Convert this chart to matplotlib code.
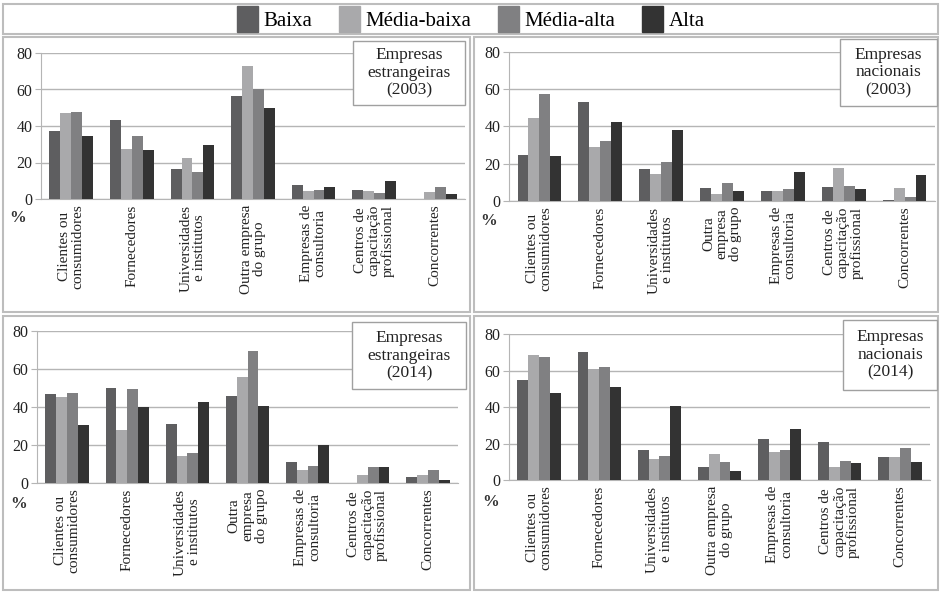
import numpy as np
import matplotlib
matplotlib.use("Agg")
import matplotlib.pyplot as plt
from matplotlib.patches import Rectangle

plt.rcParams['font.family'] = ['Liberation Serif', 'DejaVu Serif']

## data (percent)
series = ["Baixa", "Média-baixa", "Média-alta", "Alta"]
colors = ["#5e5e60", "#a9a9ab", "#808082", "#333333"]

cats_estr03 = ["Clientes ou\nconsumidores", "Fornecedores", "Universidades\ne institutos",
               "Outra empresa\ndo grupo", "Empresas de\nconsultoria",
               "Centros de\ncapacitação\nprofissional", "Concorrentes"]
cats_nac03 = ["Clientes ou\nconsumidores", "Fornecedores", "Universidades\ne institutos",
              "Outra\nempresa\ndo grupo", "Empresas de\nconsultoria",
              "Centros de\ncapacitação\nprofissional", "Concorrentes"]
cats_estr14 = cats_nac03
cats_nac14 = cats_estr03

# estrangeiras 2003
estr03_baixa = [37.4, 43.3, 16.4, 56.6, 7.7, 5.1, 0.0]
estr03_mbaixa = [46.9, 27.6, 22.6, 72.7, 4.4, 4.4, 4.0]
estr03_malta = [47.5, 34.5, 15.0, 60.1, 5.1, 3.5, 6.6]
estr03_alta = [34.5, 26.7, 29.6, 49.9, 6.6, 9.9, 2.7]

# nacionais 2003
nac03_baixa = [24.8, 53.3, 17.0, 6.8, 5.4, 7.7, 0.7]
nac03_mbaixa = [44.3, 29.2, 14.7, 3.8, 5.4, 17.9, 6.8]
nac03_malta = [57.6, 32.1, 20.8, 9.7, 6.5, 8.3, 2.0]
nac03_alta = [24.2, 42.3, 38.2, 5.6, 15.8, 6.5, 13.8]

# estrangeiras 2014
estr14_baixa = [47.0, 50.2, 31.0, 45.6, 11.1, 0.0, 3.3]
estr14_mbaixa = [45.5, 27.8, 14.4, 55.7, 6.7, 4.2, 4.2]
estr14_malta = [47.4, 49.3, 16.0, 69.4, 9.0, 8.4, 6.7]
estr14_alta = [30.3, 39.8, 42.8, 40.5, 19.9, 8.4, 1.8]

# nacionais 2014
nac14_baixa = [55.0, 70.0, 16.2, 7.3, 22.4, 20.6, 12.8]
nac14_mbaixa = [68.7, 60.7, 11.3, 14.0, 15.1, 7.1, 12.4]
nac14_malta = [67.6, 62.1, 13.1, 9.8, 16.4, 10.4, 17.7]
nac14_alta = [47.9, 50.8, 40.3, 4.9, 28.2, 9.1, 9.8]

panels = [
    (cats_estr03, [estr03_baixa, estr03_mbaixa, estr03_malta, estr03_alta], "Empresas\nestrangeiras\n(2003)"),
    (cats_nac03, [nac03_baixa, nac03_mbaixa, nac03_malta, nac03_alta], "Empresas\nnacionais\n(2003)"),
    (cats_estr14, [estr14_baixa, estr14_mbaixa, estr14_malta, estr14_alta], "Empresas\nestrangeiras\n(2014)"),
    (cats_nac14, [nac14_baixa, nac14_mbaixa, nac14_malta, nac14_alta], "Empresas\nnacionais\n(2014)"),
]

W, H = 940, 592
fig = plt.figure(figsize=(W / 100, H / 100), dpi=100)

def fx(px):
    return px / W

def fy(py):
    return 1 - py / H

# layout in pixels: axes (left, top, right, bottom), panel frame, title box, % position
layout = [
    dict(ax=(41, 53, 465, 199), frame=(3, 37, 470, 312), box=(353, 41, 465, 105), pct=(18, 218)),
    dict(ax=(509, 52, 935, 201), frame=(474, 37, 938, 312), box=(840, 39, 937, 106), pct=(489, 221)),
    dict(ax=(37, 331, 458, 483), frame=(3, 316, 470, 590), box=(352, 322, 466, 389), pct=(19, 504)),
    dict(ax=(509, 334, 930, 480), frame=(474, 316, 938, 590), box=(843, 320, 937, 390), pct=(491, 502)),
]

border = "#bdbdbd"
grid_c = "#b5b5b5"
bar_w = 0.18

# legend strip
fig.patches.append(Rectangle((fx(3), fy(34)), fx(935), 30 / H, transform=fig.transFigure,
                             fill=False, edgecolor=border, lw=1.5))

for (cats, vals, title), lay in zip(panels, layout):
    l, t, r, b = lay["ax"]
    ax = fig.add_axes([fx(l), fy(b), fx(r - l), (b - t) / H])
    x = np.arange(len(cats))
    for i, (v, c) in enumerate(zip(vals, colors)):
        ax.bar(x + (i - 1.5) * bar_w, v, bar_w, color=c, label=series[i], zorder=3)
    ax.set_xlim(-0.5, len(cats) - 0.5)
    ax.set_ylim(0, 80)
    ax.set_yticks([0, 20, 40, 60, 80])
    ax.yaxis.grid(True, color=grid_c, lw=1, zorder=0)
    ax.set_xticks(x)
    ax.set_xticklabels(cats, rotation=90, ma="center", fontsize=11, color="#222222",
                       linespacing=1.05)
    ax.tick_params(axis="x", length=0, pad=4)
    ax.tick_params(axis="y", length=4, color=grid_c, labelsize=11.5, labelcolor="#222222", pad=2)
    for s in ["top", "right"]:
        ax.spines[s].set_visible(False)
    ax.spines["left"].set_color(grid_c)
    ax.spines["bottom"].set_color(grid_c)
    ax.set_facecolor("none")

    # panel frame
    fl, ft, fr, fb = lay["frame"]
    fig.patches.append(Rectangle((fx(fl), fy(fb)), fx(fr - fl), (fb - ft) / H,
                                 transform=fig.transFigure, fill=False,
                                 edgecolor=border, lw=1.5, zorder=0))
    # title box
    bl, bt, br, bb = lay["box"]
    fig.patches.append(Rectangle((fx(bl), fy(bb)), fx(br - bl), (bb - bt) / H,
                                 transform=fig.transFigure, facecolor="white",
                                 edgecolor="#a0a0a0", lw=1, zorder=5))
    fig.text(fx((bl + br) / 2), fy((bt + bb) / 2), title, ha="center", va="center",
             fontsize=12.5, linespacing=1.15, color="#222222", zorder=6)
    px, py = lay["pct"]
    fig.text(fx(px), fy(py), "%", ha="center", va="center", fontsize=12,
             fontweight="bold", color="#333333")

handles = [Rectangle((0, 0), 1, 1, color=c) for c in colors]
fig.legend(handles, series, loc="center", bbox_to_anchor=(fx(471), fy(19)), ncol=4,
           frameon=False, fontsize=15, handlelength=1.0, handleheight=1.5,
           handletextpad=0.25, columnspacing=1.3, borderaxespad=0)

fig.savefig("out.png", dpi=100)
